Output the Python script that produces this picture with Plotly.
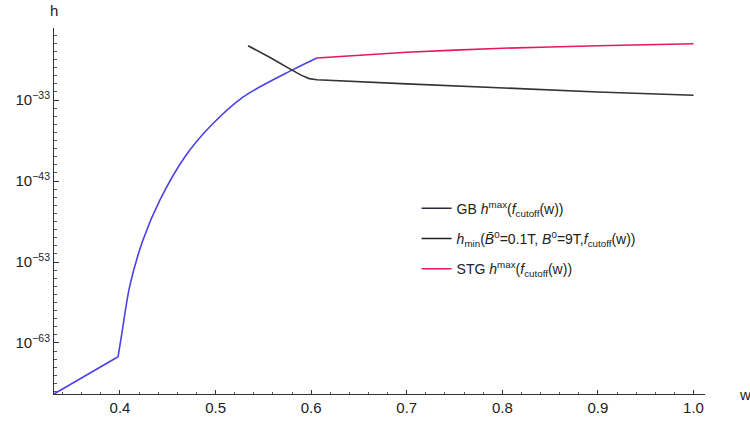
import plotly.graph_objects as go

# GB h^max (blue)  -- log10(h); first a straight piece, then the curved piece
gb_w_low = [0.331, 0.398]
gb_logh_low = [-69.3, -64.7]
gb_w = [0.398, 0.402, 0.410, 0.424, 0.442, 0.468, 0.494, 0.529, 0.580, 0.606]
gb_logh = [-64.7, -61.8, -56.1, -50.3, -45.3, -40.0, -36.3, -32.6, -29.3, -27.8]

# h_min (black)
hmin_w = [0.534, 0.558, 0.580, 0.590, 0.598, 0.606, 0.700, 0.800, 0.900, 1.000]
hmin_logh = [-26.3, -27.8, -29.3, -29.95, -30.35, -30.5, -31.0, -31.5, -32.0, -32.4]

# STG h^max (red)
stg_w = [0.606, 0.700, 0.800, 0.900, 1.000]
stg_logh = [-27.8, -27.1, -26.6, -26.3, -26.05]

x_ticks = [0.4, 0.5, 0.6, 0.7, 0.8, 0.9, 1.0]
x_ticktext = ["0.4", "0.5", "0.6", "0.7", "0.8", "0.9", "1.0"]
y_major_exp = [-63, -53, -43, -33]

legend_names = [
    "GB <i>h</i><sup>max</sup>(<i>f</i><sub>cutoff</sub>(w))",
    "<i>h</i><sub>min</sub>(<i>B\u0304</i><sup>0</sup>=0.1T, <i>B</i><sup>0</sup>=9T,<i>f</i><sub>cutoff</sub>(w))",
    "STG <i>h</i><sup>max</sup>(<i>f</i><sub>cutoff</sub>(w))",
]
legend_colors = ["#2a2a3a", "#222222", "#e8195a"]

BLUE = "#4a42e6"
BLACK = "#333333"
RED = "#e8195a"

fig = go.Figure()
fig.add_trace(go.Scatter(x=gb_w_low, y=[10 ** v for v in gb_logh_low], mode="lines",
                         line=dict(color=BLUE, width=1.6), showlegend=False))
fig.add_trace(go.Scatter(x=gb_w, y=[10 ** v for v in gb_logh], mode="lines",
                         line=dict(color=BLUE, width=1.6, shape="spline", smoothing=0.8),
                         showlegend=False))
fig.add_trace(go.Scatter(x=hmin_w, y=[10 ** v for v in hmin_logh], mode="lines",
                         line=dict(color=BLACK, width=1.6), showlegend=False))
fig.add_trace(go.Scatter(x=stg_w, y=[10 ** v for v in stg_logh], mode="lines",
                         line=dict(color=RED, width=1.6, shape="spline", smoothing=0.6),
                         showlegend=False))

for i, (name, col) in enumerate(zip(legend_names, legend_colors)):
    fig.add_trace(go.Scatter(x=[None], y=[None], mode="lines", name=name,
                             legendgroup="g%d" % i,
                             line=dict(color=col, width=1.6)))

FONT = "Liberation Sans, Arial, sans-serif"

fig.update_layout(
    width=750, height=421,
    margin=dict(l=54, r=45, t=28, b=27, autoexpand=False),
    paper_bgcolor="white", plot_bgcolor="white",
    font=dict(family=FONT, size=14, color="#222222"),
    xaxis=dict(
        range=[0.331, 1.012], showgrid=False, zeroline=False, automargin=False,
        showline=True, linecolor="#333333", linewidth=1,
        tickvals=x_ticks, ticktext=x_ticktext,
        ticks="inside", ticklen=4, tickcolor="#333333",
        minor=dict(dtick=0.02, tick0=0.0, ticks="inside", ticklen=2, tickcolor="#555555"),
        tickfont=dict(size=15, family=FONT, color="#222222"),
    ),
    yaxis=dict(
        type="log", range=[-69.3, -24.1], showgrid=False, zeroline=False, automargin=False,
        showline=True, linecolor="#333333", linewidth=1,
        tickvals=[10.0 ** e for e in y_major_exp],
        ticktext=["10<sup>\u2212%d</sup>" % (-e) for e in y_major_exp],
        ticks="inside", ticklen=5, tickcolor="#333333",
        minor=dict(tickmode="array", tickvals=[10.0 ** k for k in range(-69, -24)],
                   ticks="inside", ticklen=3, tickcolor="#555555"),
        tickfont=dict(size=15, family=FONT, color="#222222"),
    ),
    legend=dict(
        x=0.557, y=0.55, xanchor="left", yanchor="top",
        bgcolor="rgba(0,0,0,0)", itemwidth=30,
        font=dict(size=14, family=FONT, color="#222222"),
        tracegroupgap=9,
    ),
    annotations=[
        dict(text="h", x=0, y=1, xref="paper", yref="paper", xanchor="center", yanchor="bottom",
             yshift=7, showarrow=False, font=dict(size=15, family=FONT, color="#222222")),
        dict(text="w", x=1, y=0, xref="paper", yref="paper", xanchor="left", yanchor="middle",
             xshift=32, showarrow=False, font=dict(size=15, family=FONT, color="#222222")),
    ],
)

fig.write_html("out.html")
